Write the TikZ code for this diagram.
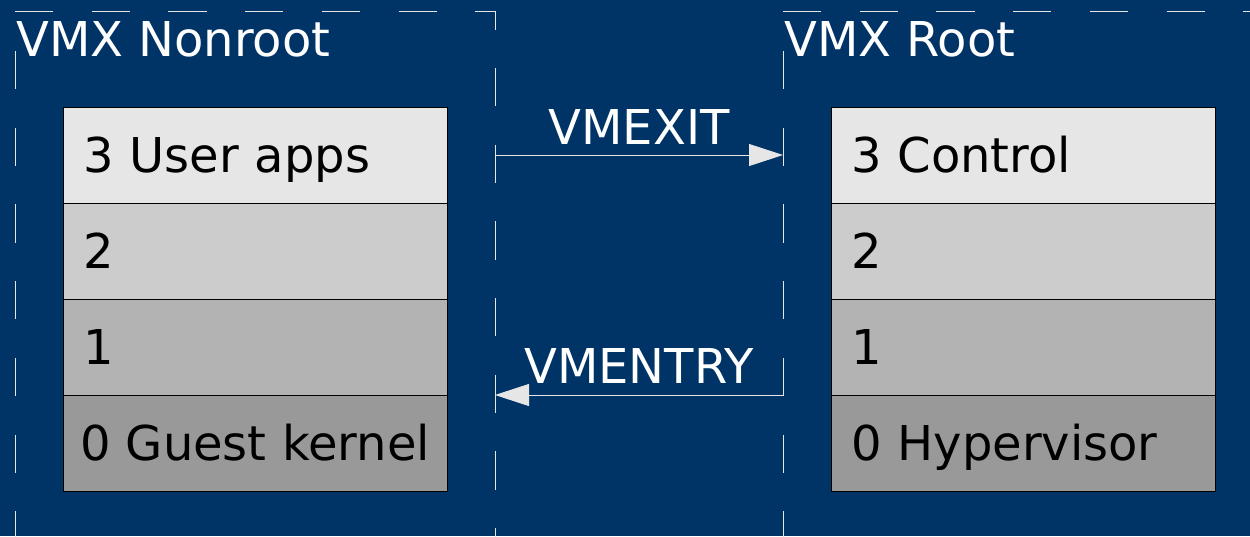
\documentclass[tikz,border=0pt]{standalone}
\usepackage{fontspec}
\setmainfont{DejaVu Sans}
\usetikzlibrary{arrows.meta}

\definecolor{bgblue}{HTML}{003366}
\definecolor{linegrey}{HTML}{E6E6E6}
\definecolor{ring3}{HTML}{E6E6E6}
\definecolor{ring2}{HTML}{CCCCCC}
\definecolor{ring1}{HTML}{B3B3B3}
\definecolor{ring0}{HTML}{999999}

\tikzset{
  clusterline/.style={draw=linegrey, line width=1pt, dash pattern=on 38.3pt off 38.4pt},
  ringbox/.style={draw=black, line width=0.8pt, minimum width=384, minimum height=96,
    inner sep=0pt, text height=40pt, text depth=6pt, font=\fontsize{48}{58}\selectfont},
  leftlab/.style={ringbox, text width=344pt, align=left},
  title/.style={text=white, inner sep=0pt, anchor=base west, font=\fontsize{48}{58}\selectfont},
  edgelab/.style={text=white, inner sep=0pt, anchor=base, font=\fontsize{48}{58}\selectfont},
  transition/.style={draw=linegrey, line width=1pt,
    -{Triangle[length=34pt, width=22pt, fill=linegrey]}},
}

\begin{document}
\begin{tikzpicture}[x=1pt, y=-1pt]
  % canvas
  \fill[bgblue] (0,0) rectangle (1250,536);
  \useasboundingbox (0,0) rectangle (1250,536);

  % cluster borders
  \draw[clusterline] (15,11) -- (495,11) -- (495,540);
  \draw[clusterline] (15,51) -- (15,540);
  \draw[clusterline] (783,11) -- (1260,11);
  \draw[clusterline] (783,51) -- (783,540);

  % cluster titles
  \node[title] (tnonroot) at (16,56) {VMX Nonroot};
  \node[title] (troot) at (784,56) {VMX Root};

  % guest ring stack
  \node[leftlab, fill=ring3] (g3) at (255,155) {3 User apps};
  \node[leftlab, fill=ring2] (g2) at (255,251) {2};
  \node[leftlab, fill=ring1] (g1) at (255,347) {1};
  \node[ringbox, fill=ring0] (g0) at (255,443) {0 Guest kernel};

  % host ring stack
  \node[leftlab, fill=ring3] (h3) at (1023,155) {3 Control};
  \node[leftlab, fill=ring2] (h2) at (1023,251) {2};
  \node[leftlab, fill=ring1] (h1) at (1023,347) {1};
  \node[leftlab, fill=ring0] (h0) at (1023,443) {0 Hypervisor};

  % transitions between the two modes
  \coordinate (exitfrom) at (495,155);
  \coordinate (exitto) at (783,155);
  \coordinate (entryfrom) at (783,395);
  \coordinate (entryto) at (495,395);

  \draw[transition] (exitfrom) -- (exitto);
  \node[edgelab] (lexit) at (639,144) {VMEXIT};

  \draw[transition] (entryfrom) -- (entryto);
  \node[edgelab] (lentry) at (639,383) {VMENTRY};
\end{tikzpicture}
\end{document}
